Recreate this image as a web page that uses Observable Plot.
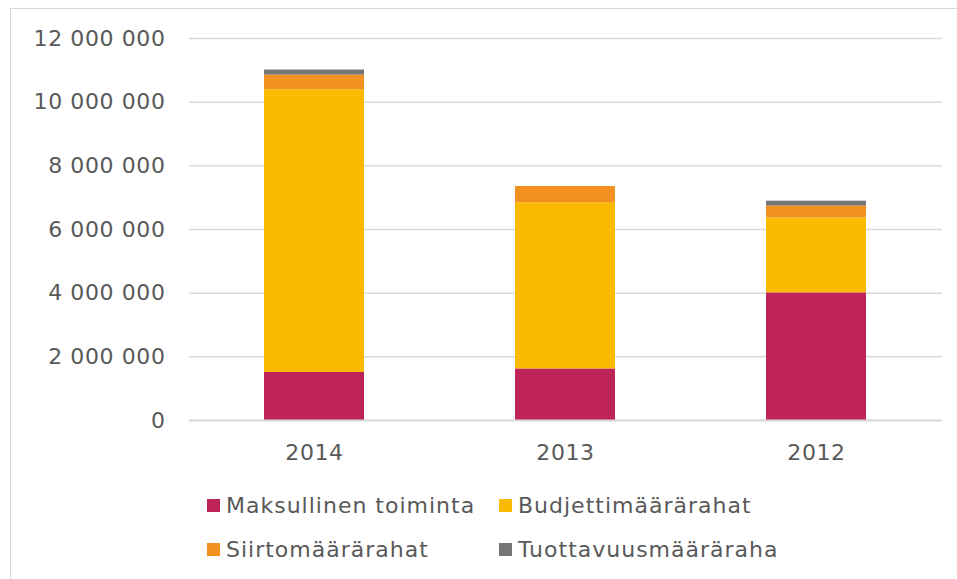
<!DOCTYPE html>
<html>
<head>
<meta charset="utf-8">
<script src="https://cdn.jsdelivr.net/npm/d3@7"></script>
<script src="https://cdn.jsdelivr.net/npm/@observablehq/plot@0.6"></script>
<style>
  html, body { margin: 0; padding: 0; background: #fff; }
  body { width: 957px; height: 579px; position: relative; overflow: hidden; font-family: "DejaVu Sans", sans-serif; }
  #frame { position: absolute; left: 10px; top: 8px; width: 1000px; height: 700px; border: 1.5px solid #d9d9d9; box-sizing: border-box; }
  #chart { position: absolute; left: 0; top: 0; }
  #chart text { letter-spacing: 0.6px; }
  .legend { position: absolute; font-size: 22px; letter-spacing: 1px; color: #595959; display: flex; align-items: center; white-space: nowrap; }
  .legend .sw { width: 13px; height: 13px; display: inline-block; margin-right: 6px; }
</style>
</head>
<body>
<div id="frame"></div>
<div id="chart"></div>
<div id="legend"></div>
<script>
const years = ["2014", "2013", "2012"];
const seriesNames = ["Maksullinen toiminta", "Budjettimäärärahat", "Siirtomäärärahat", "Tuottavuusmääräraha"];
const maksullinen = [1510000, 1620000, 4010000];
const budjetti = [8880000, 5220000, 2350000];
const siirto = [460000, 510000, 380000];
const tuottavuus = [160000, 0, 150000];
const colors = ["#BE2459", "#FBB900", "#F29020", "#757575"];
const yTicks = [0, 2000000, 4000000, 6000000, 8000000, 10000000, 12000000];

const seriesValues = [maksullinen, budjetti, siirto, tuottavuus];
const data = [];
seriesNames.forEach((s, si) => {
  years.forEach((y, yi) => data.push({year: y, series: s, value: seriesValues[si][yi]}));
});

const fmt = v => d3.format(",")(v).replace(/,/g, " ");

const chart = Plot.plot({
  width: 957,
  height: 470,
  marginLeft: 189,
  marginRight: 15,
  marginTop: 38,
  marginBottom: 50,
  style: {fontFamily: "DejaVu Sans, sans-serif", fontSize: "22px", color: "#595959", background: "transparent"},
  x: {domain: years, paddingInner: 0.6, paddingOuter: 0.3, label: null},
  y: {domain: [0, 12000000], label: null},
  color: {domain: seriesNames, range: colors},
  marks: [
    Plot.gridY(yTicks, {stroke: "#d9d9d9", strokeOpacity: 1, strokeWidth: 1.5}),
    Plot.barY(data, {x: "year", y: "value", fill: "series", order: null}),
    Plot.ruleY([0], {stroke: "#d9d9d9", strokeWidth: 2}),
    Plot.axisY({ticks: yTicks, tickFormat: fmt, tickSize: 0, tickPadding: 24, label: null, fill: "#595959"}),
    Plot.axisX({tickSize: 0, tickPadding: 24, label: null, fill: "#595959"})
  ]
});
document.getElementById("chart").appendChild(chart);

const legendPos = [[207, 505], [499, 505], [207, 549], [499, 549]];
const leg = document.getElementById("legend");
seriesNames.forEach((s, i) => {
  const d = document.createElement("div");
  d.className = "legend";
  d.style.left = legendPos[i][0] + "px";
  d.style.top = (legendPos[i][1] - 14) + "px";
  d.style.height = "28px";
  d.innerHTML = `<span class="sw" style="background:${colors[i]}"></span><span>${s}</span>`;
  leg.appendChild(d);
});
</script>
</body>
</html>
